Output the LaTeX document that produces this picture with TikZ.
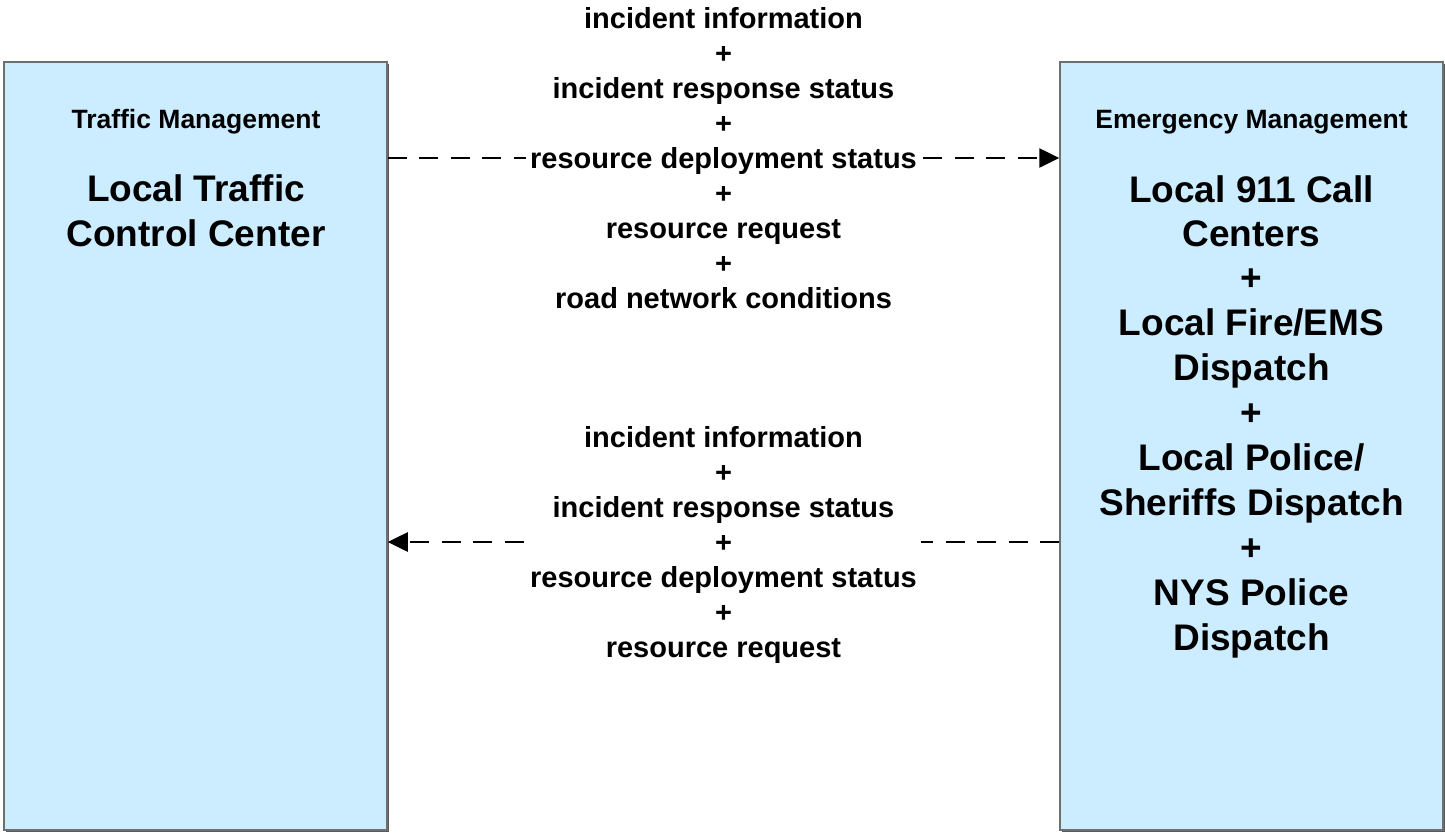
\documentclass[tikz,border=0pt]{standalone}
\usepackage{fontspec}
\setmainfont{Liberation Sans}
\usetikzlibrary{arrows.meta,shadows}
\definecolor{boxfill}{HTML}{CCECFF}
\definecolor{boxline}{HTML}{6F6F6F}
\tikzset{
  sysbox/.style={draw=boxline, line width=1.5pt, fill=boxfill, rectangle,
    minimum width=383pt, minimum height=768pt, inner sep=0pt,
    drop shadow={shadow xshift=1.5pt, shadow yshift=-1.5pt, fill=black!65, opacity=1}},
  cattext/.style={font=\bfseries\fontsize{26.5}{30}\selectfont, anchor=base, inner sep=0pt},
  nametext/.style={font=\bfseries\fontsize{37}{44.5}\selectfont, align=center, anchor=base, inner sep=0pt},
  flowlabel/.style={font=\bfseries\fontsize{29}{35}\selectfont, align=center, fill=white, inner xsep=4pt, inner ysep=0pt},
  flow/.style={line width=2.6pt, dash pattern=on 19pt off 12.5pt, -{Triangle[length=20pt,width=19pt]}}
}
\begin{document}
\begin{tikzpicture}[x=1pt,y=-1pt]
\useasboundingbox (0,0) rectangle (1445,833);
\node[sysbox] (L) at (195.5,446) {};
\node[sysbox] (R) at (1251.5,446) {};
\node[cattext] (Lcat) at (196,128) {Traffic Management};
\node[cattext] (Rcat) at (1251.5,128) {Emergency Management};
\node[nametext] (Lname1) at (196,201.5) {Local Traffic};
\node[nametext] (Lname2) at (196,246.5) {Control Center};
\node[nametext] (Rname) at (1251.5,202) {Local 911 Call};
\node[font=\bfseries\fontsize{37}{44.9}\selectfont, align=center, anchor=north, inner sep=0pt] (Rrest) at (1251.5,220) {Centers\\+\\Local Fire/EMS\\Dispatch\\+\\Local Police/\\Sheriffs Dispatch\\+\\NYS Police\\Dispatch};
\coordinate (y1) at (0,158);
\coordinate (y2) at (0,542);
\draw[flow] (L.east |- y1) -- (R.west |- y1);
\draw[flow] (R.west |- y2) -- (L.east |- y2);
\node[flowlabel] (top) at (723.5,158) {incident information\\+\\incident response status\\+\\resource deployment status\\+\\resource request\\+\\road network conditions};
\node[flowlabel] (bot) at (723.5,544.5) {incident information\\+\\incident response status\\+\\resource deployment status\\+\\resource request};
\end{tikzpicture}
\end{document}
